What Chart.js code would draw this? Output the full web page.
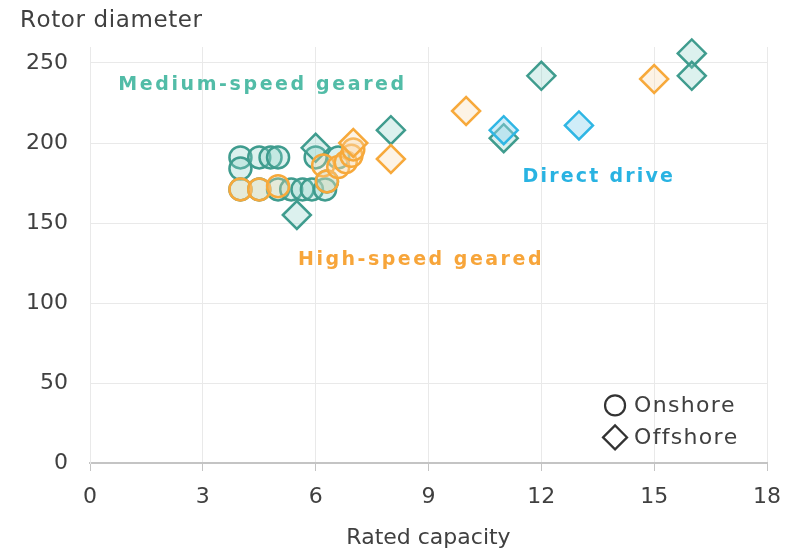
<!DOCTYPE html>
<html>
<head>
<meta charset="utf-8">
<script src="https://cdn.jsdelivr.net/npm/chart.js@4"></script>
<style>
  html, body { margin: 0; padding: 0; background: #fff; }
</style>
</head>
<body>
<canvas id="chart" width="787" height="551"></canvas>
<script>
// Rated capacity (MW) / rotor diameter (m), per drivetrain type and site
const medOnshoreCap = [4.0, 4.0, 4.5, 4.8, 5.0, 4.0, 4.5, 5.0, 5.35, 5.65, 5.9, 6.25, 6.0, 6.3, 6.6];
const medOnshoreDia = [191, 184, 191, 191, 191, 171, 171, 171, 171, 171, 171, 171, 191, 176, 191];

const medOffshoreCap = [5.5, 6.0, 8.0, 11.0, 12.0, 16.0, 16.0];
const medOffshoreDia = [155, 197, 208, 203, 242, 256, 242];

const highOnshoreCap = [4.0, 4.5, 5.0, 6.2, 6.3, 6.6, 6.8, 6.95, 7.0];
const highOnshoreDia = [171, 171, 173, 186, 176, 185, 188, 192, 196];

const highOffshoreCap = [7.0, 8.0, 10.0, 15.0];
const highOffshoreDia = [200, 190, 220, 240];

const directOffshoreCap = [11.0, 13.0];
const directOffshoreDia = [208, 211];

const xTicks = [0, 3, 6, 9, 12, 15, 18];
const yTicks = [0, 50, 100, 150, 200, 250];

const TEAL = '#3f9c8e', TEAL_FILL = 'rgba(140, 210, 200, 0.3)';
const ORANGE = '#f7a93b', ORANGE_FILL = 'rgba(250, 215, 170, 0.3)';
const BLUE = '#2fb6e4', BLUE_FILL = 'rgba(150, 215, 240, 0.45)';
const TEXT = '#404040';
const FONT = '"DejaVu Sans", Verdana, sans-serif';

function pts(xs, ys) {
  return xs.map((x, i) => ({ x, y: ys[i] }));
}

function series(label, xs, ys, stroke, fill, style) {
  return {
    label,
    data: pts(xs, ys),
    borderColor: stroke,
    backgroundColor: fill,
    pointStyle: style,
    pointRadius: style === 'circle' ? 11 : 14,
    borderWidth: 2.5,
    clip: false
  };
}

// draw text letter by letter so the spacing can be widened
function spacedText(ctx, text, x, y, spacing) {
  let cx = x;
  for (const ch of text) {
    ctx.fillText(ch, cx, y);
    cx += ctx.measureText(ch).width + spacing;
  }
}

const labelsPlugin = {
  id: 'labels',
  afterDatasetsDraw(chart) {
    const { ctx, scales: { x, y } } = chart;
    ctx.save();
    ctx.textBaseline = 'middle';
    ctx.textAlign = 'left';

    ctx.fillStyle = TEXT;
    ctx.font = '23px ' + FONT;
    spacedText(ctx, 'Rotor diameter', 20, 21, 0.6);

    ctx.font = 'bold 19px ' + FONT;
    ctx.fillStyle = '#52bca7';
    spacedText(ctx, 'Medium-speed geared', x.getPixelForValue(0.75), y.getPixelForValue(236), 2.6);
    ctx.fillStyle = '#29b3e2';
    spacedText(ctx, 'Direct drive', x.getPixelForValue(11.5), y.getPixelForValue(179), 2.2);
    ctx.fillStyle = '#f7a53a';
    spacedText(ctx, 'High-speed geared', x.getPixelForValue(5.53), y.getPixelForValue(127), 2.5);

    // site legend
    const lx = x.getPixelForValue(13.96);
    const ly1 = y.getPixelForValue(36), ly2 = y.getPixelForValue(16);
    ctx.strokeStyle = '#333';
    ctx.lineWidth = 2.2;
    ctx.beginPath();
    ctx.arc(lx, ly1, 10, 0, Math.PI * 2);
    ctx.stroke();
    ctx.beginPath();
    ctx.moveTo(lx - 12, ly2); ctx.lineTo(lx, ly2 - 12);
    ctx.lineTo(lx + 12, ly2); ctx.lineTo(lx, ly2 + 12);
    ctx.closePath();
    ctx.stroke();
    ctx.fillStyle = TEXT;
    ctx.font = '22px ' + FONT;
    spacedText(ctx, 'Onshore', lx + 19, ly1 + 1, 1.3);
    spacedText(ctx, 'Offshore', lx + 19, ly2 + 1, 1.3);
    ctx.restore();
  }
};

new Chart(document.getElementById('chart').getContext('2d'), {
  type: 'scatter',
  data: {
    datasets: [
      series('Direct drive offshore', directOffshoreCap, directOffshoreDia, BLUE, BLUE_FILL, 'rectRot'),
      series('High-speed offshore', highOffshoreCap, highOffshoreDia, ORANGE, ORANGE_FILL, 'rectRot'),
      series('High-speed onshore', highOnshoreCap, highOnshoreDia, ORANGE, ORANGE_FILL, 'circle'),
      series('Medium-speed offshore', medOffshoreCap, medOffshoreDia, TEAL, TEAL_FILL, 'rectRot'),
      series('Medium-speed onshore', medOnshoreCap, medOnshoreDia, TEAL, TEAL_FILL, 'circle')
    ]
  },
  options: {
    responsive: false,
    animation: false,
    layout: { padding: { top: 47, right: 20, left: 0, bottom: 0 } },
    plugins: { legend: { display: false }, tooltip: { enabled: false } },
    scales: {
      x: {
        type: 'linear',
        min: 0,
        max: 18,
        afterBuildTicks: s => { s.ticks = xTicks.map(v => ({ value: v })); },
        afterFit: s => { s.height = 88; s.paddingLeft = 0; s.paddingRight = 0; },
        ticks: { color: TEXT, font: { family: FONT, size: 22 }, padding: 13, maxRotation: 0 },
        grid: { color: '#e9e9e9', tickColor: '#c4c4c4', tickLength: 8 },
        border: { color: '#c4c4c4', width: 2 },
        title: {
          display: true,
          text: 'Rated capacity',
          color: TEXT,
          font: { family: FONT, size: 22 },
          padding: { top: 2, bottom: 0 }
        }
      },
      y: {
        min: 0,
        max: 260,
        afterBuildTicks: s => { s.ticks = yTicks.map(v => ({ value: v })); },
        afterFit: s => { s.width = 90; s.paddingTop = 0; s.paddingBottom = 0; },
        ticks: { color: TEXT, font: { family: FONT, size: 22 }, padding: 22 },
        grid: { color: '#e9e9e9', drawTicks: false },
        border: { color: '#e9e9e9', width: 1 }
      }
    }
  },
  plugins: [labelsPlugin]
});
</script>
</body>
</html>
